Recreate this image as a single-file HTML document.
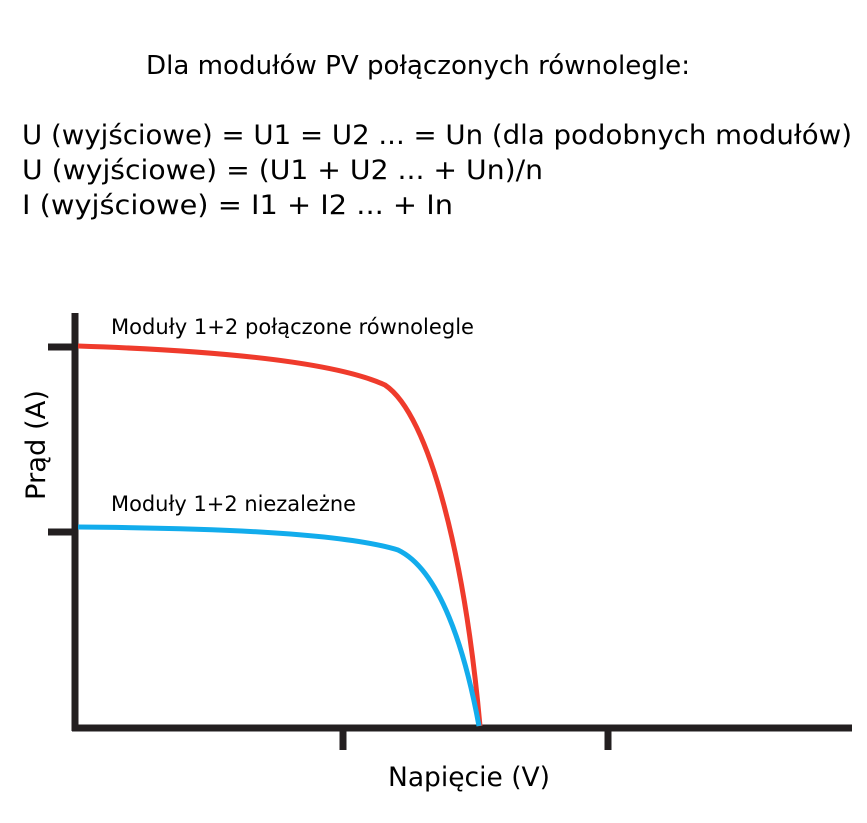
<!DOCTYPE html>
<html><head><meta charset="utf-8"><style>html,body{margin:0;padding:0;background:#fff}svg{display:block}</style></head>
<body>
<svg width="867" height="823" viewBox="0 0 867 823" xmlns="http://www.w3.org/2000/svg" font-family="'DejaVu Sans','Liberation Sans',sans-serif" fill="#000">
<text x="146" y="74" font-size="26" textLength="544" lengthAdjust="spacingAndGlyphs">Dla modułów PV połączonych równolegle:</text>
<text x="22" y="144" font-size="27" textLength="830" lengthAdjust="spacingAndGlyphs">U (wyjściowe) = U1 = U2 ... = Un (dla podobnych modułów)</text>
<text x="22" y="179" font-size="27" textLength="521" lengthAdjust="spacingAndGlyphs">U (wyjściowe) = (U1 + U2 ... + Un)/n</text>
<text x="22" y="214" font-size="27" textLength="431" lengthAdjust="spacingAndGlyphs">I (wyjściowe) = I1 + I2 ... + In</text>
<g stroke="#231f20" stroke-width="7" fill="none">
<line x1="75" y1="313" x2="75" y2="731"/>
<line x1="72" y1="728" x2="852" y2="728"/>
<line x1="48" y1="347" x2="75" y2="347"/>
<line x1="48" y1="532" x2="75" y2="532"/>
<line x1="343" y1="728" x2="343" y2="750"/>
<line x1="608" y1="728" x2="608" y2="750"/>
</g>
<path d="M78 346 C200 350 330 360 385 385 C430 415 465 560 480 726" stroke="#ef3b2c" stroke-width="5" fill="none"/>
<path d="M78 527 C200 528 340 532 398 550 C440 570 465 650 479 726" stroke="#12acec" stroke-width="5" fill="none"/>
<text x="111" y="334" font-size="21" textLength="363" lengthAdjust="spacingAndGlyphs">Moduły 1+2 połączone równolegle</text>
<text x="111" y="511" font-size="21" textLength="245" lengthAdjust="spacingAndGlyphs">Moduły 1+2 niezależne</text>
<text transform="translate(45,500) rotate(-90)" font-size="27" textLength="110" lengthAdjust="spacingAndGlyphs">Prąd (A)</text>
<text x="388" y="786" font-size="27" textLength="162" lengthAdjust="spacingAndGlyphs">Napięcie (V)</text>
</svg>
</body></html>
